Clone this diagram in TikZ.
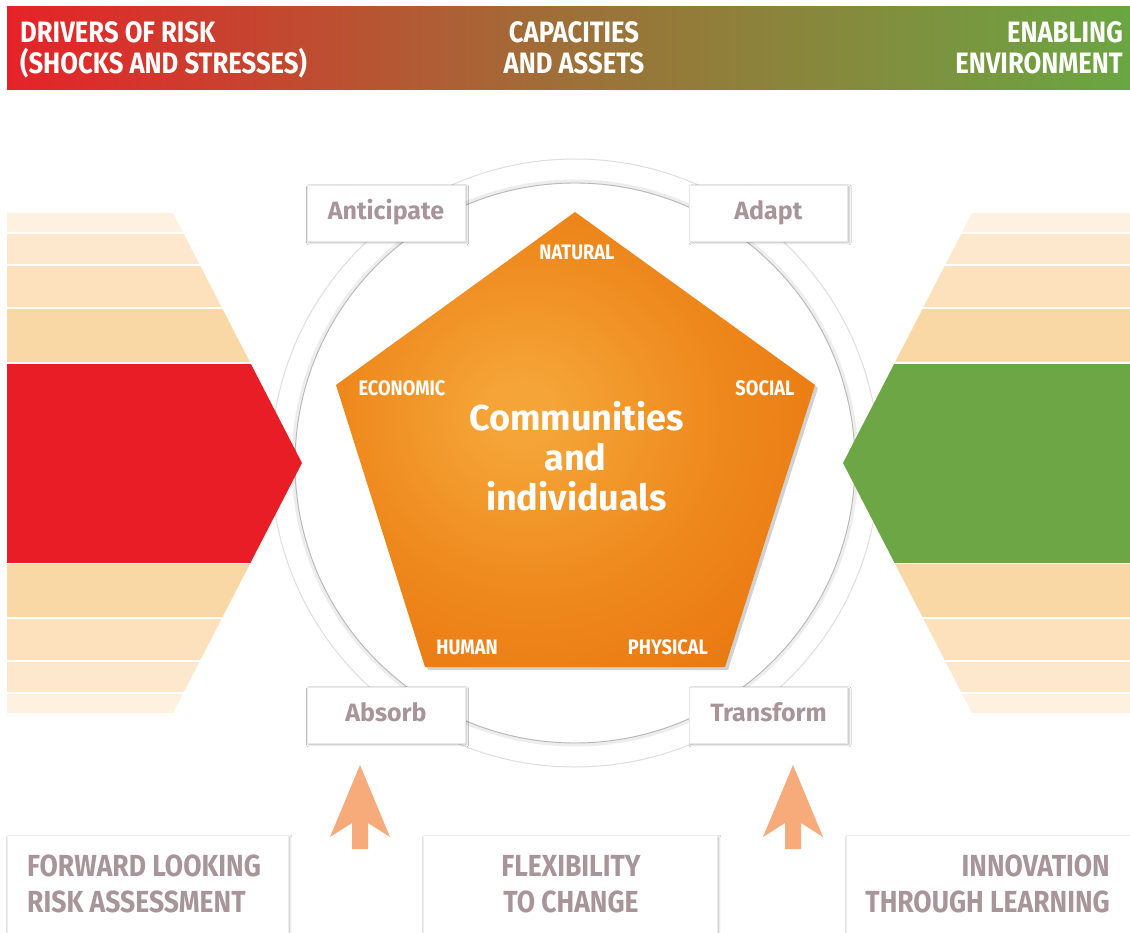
\documentclass[tikz,border=0pt]{standalone}
\usepackage{fontspec}
\setmainfont{Fira Sans}
\newfontfamily\condfont[FakeStretch=0.87]{Fira Sans}
\usetikzlibrary{shadows.blur}
\definecolor{barred}{RGB}{230,34,40}
\definecolor{barmid}{RGB}{158,112,56}
\definecolor{bargreen}{RGB}{106,166,66}
\definecolor{chevred}{RGB}{233,29,37}
\definecolor{chevgreen}{RGB}{109,167,69}
\definecolor{stripeA}{RGB}{254,241,224}
\definecolor{stripeB}{RGB}{253,232,205}
\definecolor{stripeC}{RGB}{252,225,188}
\definecolor{stripeD}{RGB}{250,216,166}
\definecolor{mauve}{RGB}{168,149,154}
\definecolor{pin}{RGB}{245,165,56}
\definecolor{pmidA}{RGB}{238,136,28}
\definecolor{pmidB}{RGB}{233,119,16}
\definecolor{pout}{RGB}{229,109,12}
\definecolor{arrowc}{RGB}{247,170,122}
\pgfdeclareradialshading{pentshade}{\pgfpoint{-6bp}{3bp}}{color(0bp)=(pin); color(3bp)=(pin); color(20bp)=(pmidA); color(35bp)=(pmidB); color(50bp)=(pout); color(80bp)=(pout)}
\tikzset{
  toptxt/.style={text=white, font=\condfont\bfseries\fontsize{29.5}{31}\selectfont, inner sep=0},
  btmtxt/.style={text=mauve, font=\condfont\bfseries\fontsize{30.5}{32}\selectfont, inner sep=0},
  pentlbl/.style={text=white, font=\condfont\bfseries\fontsize{21}{22}\selectfont, inner sep=0, anchor=base},
  centretxt/.style={text=white, font=\bfseries\fontsize{36}{40}\selectfont, inner sep=0, anchor=base},
  softshadow/.style={blur shadow={shadow xshift=1.6pt, shadow yshift=-1.8pt, shadow blur steps=6, shadow blur radius=2pt, shadow opacity=28}},
  cornerbox/.style={draw=black!9, fill=white, minimum width=158pt, minimum height=56pt, inner sep=0,
     text=mauve, font=\bfseries\fontsize{25}{27}\selectfont, text height=18pt, text depth=5pt, softshadow},
  btmbox/.style={draw=black!7, fill=white, inner sep=0, anchor=north west, softshadow},
  fatarrow/.style={fill=arrowc},
}
\begin{document}
\begin{tikzpicture}[x=1pt,y=-1pt]
\useasboundingbox (0,0) rectangle (1130,933);
\fill[white] (0,0) rectangle (1130,933);

% top bar
\shade[left color=barred, right color=bargreen, middle color=barmid] (7,7) rectangle (1130,90);
\node[toptxt, anchor=base west] (drivers1) at (20,43) {DRIVERS OF RISK};
\node[toptxt, anchor=base west] (drivers2) at (20,74) {(SHOCKS AND STRESSES)};
\node[toptxt, anchor=base] (capac1) at (574,43) {CAPACITIES};
\node[toptxt, anchor=base] (capac2) at (574,74) {AND ASSETS};
\node[toptxt, anchor=base east] (enabl1) at (1123,43) {ENABLING};
\node[toptxt, anchor=base east] (enabl2) at (1123,74) {ENVIRONMENT};

% ring
\draw[black!13, line width=1pt] (575,463) circle[radius=304pt];
\draw[black!7, line width=4pt] (575,463) circle[radius=281.5pt];
\draw[black!28, line width=0.9pt] (575,463) circle[radius=280pt];

% left chevron
\begin{scope}
\clip (7,213) -- (173,213) -- (302,463) -- (173,713) -- (7,713) -- cycle;
\fill[stripeA] (0,213) rectangle (320,232);
\fill[stripeB] (0,234) rectangle (320,264);
\fill[stripeC] (0,266) rectangle (320,307);
\fill[stripeD] (0,309) rectangle (320,362);
\fill[chevred] (0,363.5) rectangle (320,562.5);
\fill[stripeD] (0,564) rectangle (320,617);
\fill[stripeC] (0,619) rectangle (320,660);
\fill[stripeB] (0,662) rectangle (320,692);
\fill[stripeA] (0,694) rectangle (320,713);
\end{scope}
% right chevron
\begin{scope}
\clip (1130,213) -- (972,213) -- (843,463) -- (972,713) -- (1130,713) -- cycle;
\fill[stripeA] (830,213) rectangle (1130,232);
\fill[stripeB] (830,234) rectangle (1130,264);
\fill[stripeC] (830,266) rectangle (1130,307);
\fill[stripeD] (830,309) rectangle (1130,362);
\fill[chevgreen] (830,363.5) rectangle (1130,562.5);
\fill[stripeD] (830,564) rectangle (1130,617);
\fill[stripeC] (830,619) rectangle (1130,660);
\fill[stripeB] (830,662) rectangle (1130,692);
\fill[stripeA] (830,694) rectangle (1130,713);
\end{scope}

% pentagon
\fill[black, opacity=0.18] (577,215) -- (818,388) -- (728,670) -- (428,670) -- (339,388) -- cycle;
\shade[shading=pentshade] (575,212) -- (815,385) -- (725,667) -- (425,667) -- (336,385) -- cycle;
\node[pentlbl] (natural) at (577,260) {NATURAL};
\node[pentlbl] (economic) at (402,395) {ECONOMIC};
\node[pentlbl] (social) at (765,395) {SOCIAL};
\node[pentlbl] (human) at (467,654) {HUMAN};
\node[pentlbl] (physical) at (668,654) {PHYSICAL};
\node[centretxt] (comm) at (576.5,430) {Communities};
\node[centretxt] (and) at (575.5,470) {and};
\node[centretxt] (indiv) at (576.5,510) {individuals};

% corner boxes
\node[cornerbox] (anticipate) at (386,213) {Anticipate};
\node[cornerbox] (adapt) at (768.5,213) {Adapt};
\node[cornerbox] (absorb) at (386,715) {Absorb};
\node[cornerbox] (transform) at (768.5,715) {Transform};

% arrows
\fill[fatarrow] (360,765) -- (390,837) -- (368,823) -- (368,849) -- (352,849) -- (352,823) -- (330,837) -- cycle;
\fill[fatarrow] (793,765) -- (823,837) -- (801,823) -- (801,849) -- (785,849) -- (785,823) -- (763,837) -- cycle;

% bottom boxes
\node[btmbox, minimum width=281pt, minimum height=130pt] (riskbox) at (7,835) {};
\node[btmbox, minimum width=294pt, minimum height=130pt] (flexbox) at (423,835) {};
\node[btmbox, minimum width=300pt, minimum height=130pt] (innovbox) at (846,835) {};
\node[btmtxt, anchor=base west] (risk1) at (27,876) {FORWARD LOOKING};
\node[btmtxt, anchor=base west] (risk2) at (27,912) {RISK ASSESSMENT};
\node[btmtxt, anchor=base] (flex1) at (571,876) {FLEXIBILITY};
\node[btmtxt, anchor=base] (flex2) at (571,912) {TO CHANGE};
\node[btmtxt, anchor=base east] (innov1) at (1110,876) {INNOVATION};
\node[btmtxt, anchor=base east] (innov2) at (1110,912) {THROUGH LEARNING};
\end{tikzpicture}
\end{document}
